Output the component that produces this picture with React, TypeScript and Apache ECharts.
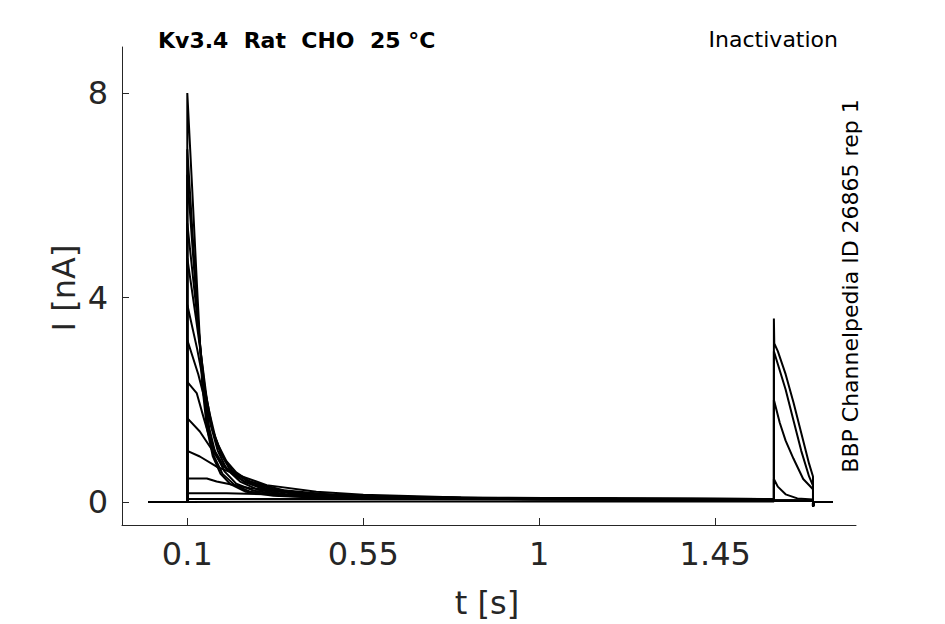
import React, { useEffect, useRef } from "react";
import * as echarts from "echarts";

// Sweep pieces: [t (s), I (nA)]
const baseline: number[][] = [[0, 0], [0.1, 0]];

const pre1 = [[0.1, 8.0], [0.112, 6.2], [0.125, 4.2], [0.138, 2.3], [0.15, 1.45], [0.165, 0.9], [0.185, 0.55], [0.21, 0.35], [0.25, 0.2], [0.32, 0.12], [0.45, 0.08], [0.7, 0.06], [1.0, 0.05], [1.3, 0.05], [1.6, 0.05]];
const pre2 = [[0.1, 6.9], [0.113, 5.3], [0.127, 3.6], [0.14, 2.3], [0.153, 1.45], [0.168, 0.9], [0.19, 0.55], [0.22, 0.34], [0.26, 0.2], [0.34, 0.12], [0.5, 0.08], [0.8, 0.06], [1.2, 0.05], [1.6, 0.05]];
const pre3 = [[0.1, 6.4], [0.115, 4.8], [0.13, 3.3], [0.142, 2.3], [0.156, 1.45], [0.172, 0.95], [0.195, 0.6], [0.225, 0.36], [0.27, 0.22], [0.35, 0.13], [0.5, 0.08], [0.9, 0.06], [1.6, 0.05]];
const pre4 = [[0.1, 5.45], [0.12, 4.0], [0.135, 2.9], [0.145, 2.2], [0.16, 1.5], [0.178, 1.0], [0.2, 0.65], [0.235, 0.4], [0.28, 0.24], [0.36, 0.14], [0.5, 0.09], [0.9, 0.06], [1.6, 0.05]];
const pre5 = [[0.1, 4.77], [0.122, 3.6], [0.14, 2.6], [0.15, 2.0], [0.165, 1.4], [0.185, 0.95], [0.21, 0.62], [0.245, 0.4], [0.3, 0.24], [0.38, 0.15], [0.55, 0.09], [1.0, 0.06], [1.6, 0.05]];
const pre6 = [[0.1, 3.86], [0.125, 3.0], [0.145, 2.2], [0.158, 1.7], [0.172, 1.25], [0.19, 0.9], [0.215, 0.62], [0.25, 0.42], [0.3, 0.27], [0.4, 0.16], [0.55, 0.1], [1.0, 0.07], [1.6, 0.05]];
const pre7 = [[0.1, 3.17], [0.128, 2.5], [0.148, 1.9], [0.163, 1.45], [0.18, 1.1], [0.2, 0.8], [0.225, 0.58], [0.26, 0.4], [0.32, 0.25], [0.42, 0.15], [0.6, 0.09], [1.0, 0.07], [1.6, 0.06]];
const pre8 = [[0.1, 2.35], [0.124, 2.13], [0.141, 1.67], [0.155, 1.3], [0.17, 1.0], [0.19, 0.75], [0.215, 0.55], [0.25, 0.38], [0.3, 0.26], [0.38, 0.17], [0.5, 0.12], [0.8, 0.08], [1.6, 0.06]];
const pre9 = [[0.1, 1.64], [0.132, 1.38], [0.158, 1.08], [0.192, 0.69], [0.26, 0.4], [0.346, 0.23], [0.47, 0.14], [0.6, 0.1], [0.9, 0.08], [1.6, 0.06]];
const pre10 = [[0.1, 1.0], [0.132, 0.89], [0.175, 0.69], [0.218, 0.56], [0.303, 0.33], [0.43, 0.2], [0.55, 0.14], [0.8, 0.09], [1.2, 0.07], [1.6, 0.06]];
const pre11 = [[0.1, 0.46], [0.15, 0.46], [0.175, 0.4], [0.26, 0.27], [0.39, 0.17], [0.55, 0.12], [0.8, 0.08], [1.2, 0.06], [1.6, 0.05]];
const pre12 = [[0.1, 0.17], [0.2, 0.17], [0.35, 0.14], [0.6, 0.1], [1.0, 0.07], [1.6, 0.05]];
const pre13 = [[0.1, 0.06], [0.5, 0.06], [1.0, 0.05], [1.6, 0.04]];
const pre14 = [[0.1, 0.0], [0.6, 0.01], [1.6, 0.01]];

const testA = [[1.6, 3.59], [1.601, 3.1], [1.61, 2.95], [1.63, 2.5], [1.65, 1.95], [1.67, 1.35], [1.69, 0.75], [1.7, 0.5]];
const testB = [[1.6, 2.95], [1.61, 2.7], [1.63, 2.2], [1.65, 1.6], [1.67, 1.0], [1.69, 0.5], [1.7, 0.32]];
const testC = [[1.6, 2.0], [1.615, 1.55], [1.63, 1.2], [1.65, 0.85], [1.675, 0.45], [1.7, 0.25]];
const testD = [[1.6, 0.45], [1.61, 0.3], [1.63, 0.15], [1.66, 0.07], [1.7, 0.05]];
const testZero = [[1.6, 0.03], [1.7, 0.02]];
const tail = [[1.7, -0.09], [1.703, 0], [1.75, 0]];

const sweeps = [
  [pre1, testZero], [pre2, testZero], [pre3, testZero], [pre4, testZero],
  [pre5, testZero], [pre6, testZero], [pre7, testZero], [pre8, testZero],
  [pre9, testZero], [pre10, testZero], [pre11, testD], [pre12, testC],
  [pre13, testB], [pre14, testA],
];

const xTicks = [0.1, 0.55, 1, 1.45];
const yTicks = [0, 4, 8];

const AX = "#262626";
const FONT = '"DejaVu Sans", sans-serif';

export default function App() {
  const ref = useRef<HTMLDivElement>(null);
  useEffect(() => {
    if (!ref.current) return;
    const chart = echarts.init(ref.current, undefined, { renderer: "svg" });
    const series = sweeps.map(([pre, test]) => ({
      type: "line",
      data: [...baseline, ...pre, ...test, ...tail],
      showSymbol: false,
      symbol: "none",
      silent: true,
      lineStyle: { color: "#000", width: 2 },
    }));
    chart.setOption({
      animation: false,
      backgroundColor: "#fff",
      grid: { left: 122, right: 89, top: 47, bottom: 99 },
      xAxis: {
        type: "value",
        min: -0.067,
        max: 1.81,
        axisLine: { show: true, onZero: false, lineStyle: { color: AX, width: 1 } },
        axisTick: { show: true, inside: true, length: 7, customValues: xTicks, lineStyle: { color: AX } },
        axisLabel: { customValues: xTicks, color: AX, fontSize: 32, fontFamily: FONT, margin: 13 },
        splitLine: { show: false },
      },
      yAxis: {
        type: "value",
        min: -0.45,
        max: 8.9,
        axisLine: { show: true, onZero: false, lineStyle: { color: AX, width: 1 } },
        axisTick: { show: true, inside: true, length: 7, customValues: yTicks, lineStyle: { color: AX } },
        axisLabel: { customValues: yTicks, color: AX, fontSize: 32, fontFamily: FONT, margin: 14 },
        splitLine: { show: false },
      },
      graphic: [
        { type: "text", x: 158, y: 40, style: { text: "Kv3.4  Rat  CHO  25 °C", font: `bold 22px ${FONT}`, fill: "#000", align: "left", verticalAlign: "middle" } },
        { type: "text", x: 838, y: 39, style: { text: "Inactivation", font: `22px ${FONT}`, fill: "#000", align: "right", verticalAlign: "middle" } },
        { type: "text", x: 850, y: 286, rotation: Math.PI / 2, style: { text: "BBP Channelpedia ID 26865 rep 1", font: `22px ${FONT}`, fill: "#000", align: "center", verticalAlign: "middle" } },
        { type: "text", x: 487, y: 603, style: { text: "t [s]", font: `32px ${FONT}`, fill: AX, align: "center", verticalAlign: "middle" } },
        { type: "text", x: 64, y: 288, rotation: Math.PI / 2, style: { text: "I [nA]", font: `32px ${FONT}`, fill: AX, align: "center", verticalAlign: "middle" } },
      ],
      series,
    });
    return () => chart.dispose();
  }, []);
  return <div ref={ref} style={{ width: 945, height: 624, position: "absolute", left: 0, top: 0 }} />;
}
